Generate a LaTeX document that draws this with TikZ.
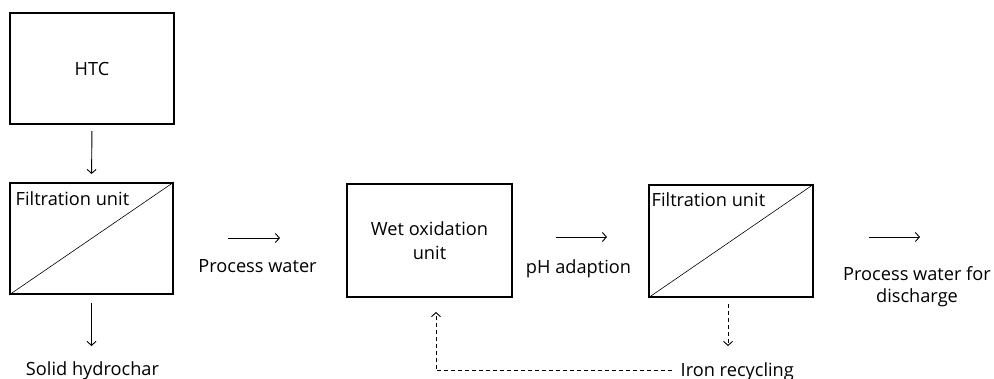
\documentclass[tikz,border=0pt]{standalone}
\usepackage{fontspec}
\setmainfont{Open Sans}
\usetikzlibrary{arrows.meta}
\begin{document}
\begin{tikzpicture}[x=1pt,y=-1pt,
  every node/.style={font=\fontsize{18.2}{23.5}\selectfont, text=black},
  unitbox/.style={draw, line width=2pt, inner sep=0pt},
  flow/.style={line width=0.9pt, -{Straight Barb[length=4pt,width=9pt]}},
  recycle/.style={flow, dash pattern=on 4pt off 3pt},
  lbl/.style={inner sep=0pt, align=center}]
\useasboundingbox (0,0) rectangle (994,378);

% process units
\node[unitbox, minimum width=164pt, minimum height=111pt] (htc) at (92,68.5) {HTC};
\node[unitbox, minimum width=163pt, minimum height=111pt] (filta) at (91.5,238.5) {};
\node[unitbox, minimum width=165pt, minimum height=113pt, align=center] (wet) at (429.5,240.5) {Wet oxidation\\unit};
\node[unitbox, minimum width=164pt, minimum height=112pt] (filtb) at (731,241) {};

% filter membranes
\draw[line width=0.6pt] (filta.south west) -- (filta.north east);
\draw[line width=0.6pt] (filtb.south west) -- (filtb.north east);
\node[lbl, anchor=base west] (filtalbl) at (15.5,205) {Filtration unit};
\node[lbl, anchor=base west] (filtblbl) at (651.5,206) {Filtration unit};

% stream labels
\node[lbl, anchor=base] (solid) at (92.5,375) {Solid hydrochar};
\node[lbl, anchor=base] (pw) at (257.5,272) {Process water};
\node[lbl, anchor=base] (ph) at (578.5,273) {pH adaption};
\node[lbl, font=\fontsize{18.2}{22}\selectfont] (dis) at (917,286.3) {Process water for\\discharge};
\node[lbl, anchor=base west] (iron) at (680.5,376.5) {Iron recycling};

% flow arrows
\coordinate (pwa) at (228,238);
\coordinate (pwb) at (280,238);
\coordinate (pha) at (556,237);
\coordinate (phb) at (607,237);
\coordinate (disa) at (869,237);
\coordinate (disb) at (920,237);
\draw[flow, shorten <=6pt, shorten >=8pt] (htc.south) -- (filta.north);
\draw[flow, shorten <=8pt] (filta.south) -- ++(0,51);
\draw[flow] (pwa) -- (pwb);
\draw[flow] (pha) -- (phb);
\draw[flow] (disa) -- (disb);

% iron recycle loop
\draw[recycle, shorten <=6pt] ([xshift=-3pt]filtb.south) -- ++(0,48);
\coordinate (ironend) at (672,370.5);
\draw[recycle, shorten >=14pt] (ironend) -| ([xshift=6.5pt]wet.south);
\end{tikzpicture}
\end{document}
